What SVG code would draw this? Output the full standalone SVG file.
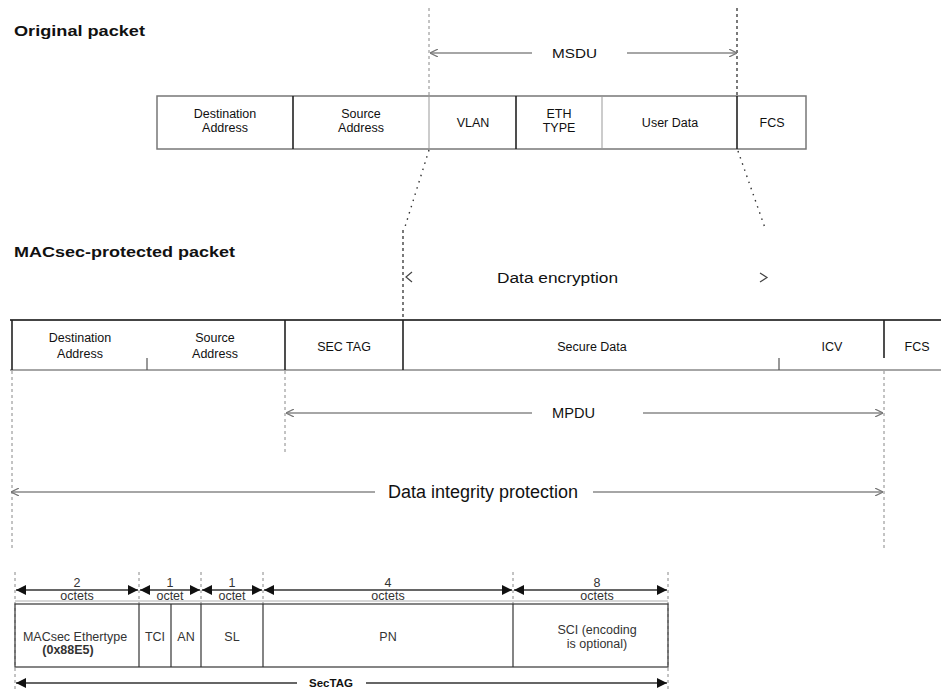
<svg xmlns="http://www.w3.org/2000/svg" width="941" height="695" viewBox="0 0 941 695">
<defs>
<style>
.t{font-family:"Liberation Sans",Arial,sans-serif;fill:#111;}
.h{font-weight:bold;font-size:15px;}
.c{font-size:12.5px;text-anchor:middle;}
.s{font-size:12.5px;text-anchor:middle;fill:#333;}
.box{fill:#fff;stroke:#777;stroke-width:1.5;}
.dk{stroke:#222;stroke-width:1.6;}
.lt{stroke:#999;stroke-width:1;}
.dash{stroke:#888;stroke-width:1;stroke-dasharray:3,3;fill:none;}
.dashd{stroke:#333;stroke-width:1.3;stroke-dasharray:3,3;fill:none;}
.dot{stroke:#333;stroke-width:1.4;stroke-dasharray:1.5,5;fill:none;}
.chev{stroke:#444;stroke-width:1.2;fill:none;}
.arr{stroke:#888;stroke-width:1.5;fill:none;}
.blk{stroke:#333;stroke-width:1.5;fill:none;}
</style>
<marker id="ao" viewBox="0 0 10 10" refX="10" refY="5" markerWidth="8" markerHeight="8" orient="auto-start-reverse" markerUnits="userSpaceOnUse">
<path d="M0,0 L10,5 L0,10" fill="none" stroke="#777" stroke-width="1.5"/>
</marker>
<marker id="af" viewBox="0 0 10 10" refX="10" refY="5" markerWidth="12" markerHeight="10" orient="auto-start-reverse" markerUnits="userSpaceOnUse">
<path d="M0,0 L10,5 L0,10 Z" fill="#111"/>
</marker>
</defs>
<rect width="941" height="695" fill="#fff"/>

<text class="t h" x="14" y="36" textLength="131" lengthAdjust="spacingAndGlyphs">Original packet</text>
<text class="t h" x="14" y="257" textLength="221" lengthAdjust="spacingAndGlyphs">MACsec-protected packet</text>

<g id="original-packet">
<rect class="box" x="157" y="96" width="649" height="53"/>
<line class="dk" x1="293" y1="96" x2="293" y2="149"/>
<line class="lt" x1="429" y1="96" x2="429" y2="149"/>
<line class="dk" x1="516" y1="96" x2="516" y2="149"/>
<line class="lt" x1="602" y1="96" x2="602" y2="149"/>
<line class="dk" x1="737" y1="96" x2="737" y2="149"/>
</g>
<g id="op-dest"><text class="t c" x="225" y="118">Destination</text><text class="t c" x="225" y="132">Address</text></g>
<g id="op-src"><text class="t c" x="361" y="118">Source</text><text class="t c" x="361" y="132">Address</text></g>
<g id="op-vlan"><text class="t c" x="473" y="127">VLAN</text></g>
<g id="op-eth"><text class="t c" x="559" y="118">ETH</text><text class="t c" x="559" y="132">TYPE</text></g>
<g id="op-user"><text class="t c" x="670" y="127">User Data</text></g>
<g id="op-fcs"><text class="t c" x="772" y="127">FCS</text></g>

<g id="macsec-packet">
<line x1="10" y1="320" x2="941" y2="320" stroke="#444" stroke-width="1.8"/>
<line x1="10" y1="370" x2="941" y2="370" stroke="#888" stroke-width="1.5"/>
<line class="dk" x1="12" y1="320" x2="12" y2="370"/>
<line class="dk" x1="285" y1="320" x2="285" y2="370"/>
<line class="dk" x1="403" y1="320" x2="403" y2="370"/>
<line class="dk" x1="884" y1="320" x2="884" y2="358"/>
<line x1="147" y1="358" x2="147" y2="370" stroke="#555" stroke-width="1.2"/>
<line x1="779" y1="358" x2="779" y2="370" stroke="#555" stroke-width="1.2"/>
</g>
<g id="mp-dest"><text class="t c" x="80" y="342">Destination</text><text class="t c" x="80" y="358">Address</text></g>
<g id="mp-src"><text class="t c" x="215" y="342">Source</text><text class="t c" x="215" y="358">Address</text></g>
<g id="mp-sectag"><text class="t c" x="344" y="351">SEC TAG</text></g>
<g id="mp-secure"><text class="t c" x="592" y="351">Secure Data</text></g>
<g id="mp-icv"><text class="t c" x="832" y="351">ICV</text></g>
<g id="mp-fcs"><text class="t c" x="917" y="351">FCS</text></g>

<g id="connectors">
<line class="dash" x1="429" y1="8" x2="429" y2="96"/>
<line class="dashd" x1="737" y1="8" x2="737" y2="96"/>
<line class="arr" x1="430" y1="53" x2="532" y2="53" marker-start="url(#ao)" stroke="#aaa"/>
<line class="arr" x1="627" y1="53" x2="737" y2="53" marker-end="url(#ao)" stroke="#aaa"/>
<text class="t" x="552" y="58" font-size="13" textLength="45" lengthAdjust="spacingAndGlyphs">MSDU</text>

<line class="dot" x1="429" y1="150" x2="404" y2="230"/>
<line class="dot" x1="738" y1="151" x2="765" y2="228"/>
<line class="dashd" x1="403" y1="230" x2="403" y2="319"/>
<path d="M412,272 L406,277 L412,282" class="chev"/>
<path d="M760,273 L767,277.5 L760,282" class="chev"/>
<text class="t" x="497" y="283" font-size="14" textLength="121" lengthAdjust="spacingAndGlyphs">Data encryption</text>

<line class="dash" x1="12" y1="371" x2="12" y2="550"/>
<line class="dash" x1="285" y1="371" x2="285" y2="455"/>
<line class="dash" x1="884" y1="371" x2="884" y2="550"/>
<line class="arr" x1="286" y1="413" x2="532" y2="413" marker-start="url(#ao)"/>
<line class="arr" x1="643" y1="413" x2="883" y2="413" marker-end="url(#ao)"/>
<text class="t" x="552" y="418" font-size="14" textLength="43" lengthAdjust="spacingAndGlyphs">MPDU</text>

<line class="arr" x1="11" y1="492" x2="375" y2="492" marker-start="url(#ao)"/>
<line class="arr" x1="593" y1="492" x2="883" y2="492" marker-end="url(#ao)"/>
<text class="t" x="388" y="498" font-size="18" textLength="190" lengthAdjust="spacingAndGlyphs">Data integrity protection</text>
</g>

<g id="sectag-format">
<line class="dash" x1="15" y1="572" x2="15" y2="690" stroke="#555"/>
<line class="dash" x1="139" y1="572" x2="139" y2="604" stroke="#555"/>
<line class="dash" x1="201" y1="572" x2="201" y2="604" stroke="#555"/>
<line class="dash" x1="263" y1="572" x2="263" y2="604" stroke="#555"/>
<line class="dash" x1="513" y1="572" x2="513" y2="604" stroke="#555"/>
<line class="dash" x1="668" y1="572" x2="668" y2="690" stroke="#555"/>
<line class="blk" x1="16" y1="590" x2="138" y2="590" marker-start="url(#af)" marker-end="url(#af)"/>
<line class="blk" x1="140" y1="590" x2="200" y2="590" marker-start="url(#af)" marker-end="url(#af)"/>
<line class="blk" x1="202" y1="590" x2="262" y2="590" marker-start="url(#af)" marker-end="url(#af)"/>
<line class="blk" x1="264" y1="590" x2="512" y2="590" marker-start="url(#af)" marker-end="url(#af)"/>
<line class="blk" x1="514" y1="590" x2="667" y2="590" marker-start="url(#af)" marker-end="url(#af)"/>
<rect x="15" y="604" width="653" height="63" fill="none" stroke="#444" stroke-width="1.3"/>
<line x1="15" y1="601" x2="668" y2="601" stroke="#999" stroke-width="0.8"/>
<line x1="139" y1="604" x2="139" y2="667" stroke="#333" stroke-width="1.2"/>
<line x1="171" y1="604" x2="171" y2="667" stroke="#333" stroke-width="1.2"/>
<line x1="201" y1="604" x2="201" y2="667" stroke="#333" stroke-width="1.2"/>
<line x1="263" y1="604" x2="263" y2="667" stroke="#333" stroke-width="1.2"/>
<line x1="513" y1="604" x2="513" y2="667" stroke="#333" stroke-width="1.2"/>
<text class="t s" x="77" y="587">2</text><text class="t s" x="77" y="600" font-size="11">octets</text>
<text class="t s" x="170" y="587">1</text><text class="t s" x="170" y="600" font-size="11">octet</text>
<text class="t s" x="232" y="587">1</text><text class="t s" x="232" y="600" font-size="11">octet</text>
<text class="t s" x="388" y="587">4</text><text class="t s" x="388" y="600" font-size="11">octets</text>
<text class="t s" x="597" y="587">8</text><text class="t s" x="597" y="600" font-size="11">octets</text>
<text class="t s" x="75" y="641">MACsec Ethertype</text>
<text class="t s" x="68" y="654" font-weight="bold" fill="#222">(0x88E5)</text>
<text class="t s" x="155" y="641">TCI</text>
<text class="t s" x="186" y="641">AN</text>
<text class="t s" x="232" y="641">SL</text>
<text class="t s" x="388" y="641">PN</text>
<text class="t s" x="597" y="634">SCI (encoding</text>
<text class="t s" x="597" y="648">is optional)</text>
<line class="blk" x1="16" y1="683" x2="297" y2="683" marker-start="url(#af)"/>
<line class="blk" x1="366" y1="683" x2="667" y2="683" marker-end="url(#af)"/>
<text class="t" x="331" y="687" font-size="11.5" font-weight="bold" fill="#333" text-anchor="middle">SecTAG</text>
</g>
</svg>
